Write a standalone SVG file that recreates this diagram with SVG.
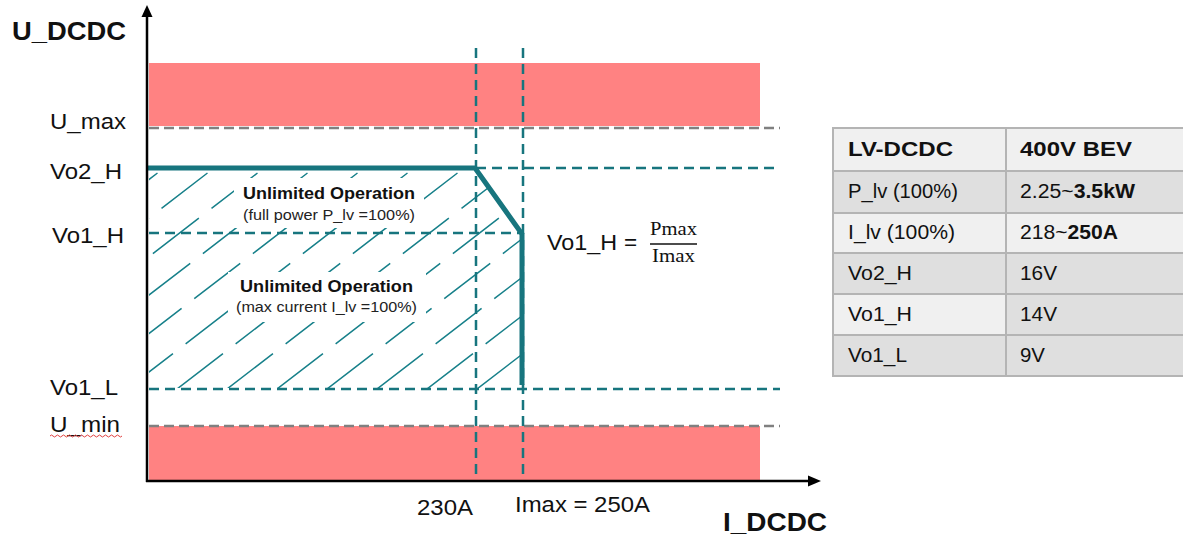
<svg xmlns="http://www.w3.org/2000/svg" width="1183" height="542" viewBox="0 0 1183 542">
<style>
text{font-family:"Liberation Sans",Arial,sans-serif;fill:#111}
.lbl{font-size:22.5px}
.ax{font-size:26px;font-weight:bold}
.uo{font-size:16.5px;font-weight:bold}
.sub{font-size:14.5px;fill:#222}
.tb{font-size:19.5px}
.b{font-weight:bold}
.red{fill:#ff8282}
.gdash{stroke:#808080;stroke-width:2.5;stroke-dasharray:10 5;fill:none}
.tdash{stroke:#17757e;stroke-width:2.5;stroke-dasharray:10 6;fill:none}
.hatch{stroke:#17808a;stroke-width:1.5;stroke-dasharray:58 16;fill:none}
.cellL{fill:#f0f0f0;stroke:#b4b4b4;stroke-width:2}
.cellD{fill:#dfdfdf;stroke:#b4b4b4;stroke-width:2}
.ser{font-family:"Liberation Serif","DejaVu Serif",serif;font-size:18px}
</style>
<defs>
<clipPath id="hclip"><polygon points="149,169 475,169 522,234 522,388 149,388"/></clipPath>
</defs>
<rect width="1183" height="542" fill="#fff"/>

<g id="bands">
<rect class="red" x="149" y="63" width="611" height="63"/>
<rect class="red" x="149" y="426" width="611" height="54"/>
</g>

<g id="hatching" clip-path="url(#hclip)">
<path class="hatch" d="M-273,389 L14,168 M-223,389 L64,168 M-173,389 L114,168 M-123,389 L164,168 M-73,389 L214,168 M-23,389 L264,168 M27,389 L314,168 M77,389 L364,168 M127,389 L414,168 M177,389 L464,168 M227,389 L514,168 M277,389 L564,168 M327,389 L614,168 M377,389 L664,168 M427,389 L714,168 M477,389 L764,168"/>
<rect x="234" y="178" width="190" height="50" fill="#fff"/>
<rect x="228" y="272" width="198" height="50" fill="#fff"/>
</g>

<g id="connectors">
<path class="gdash" d="M149,128 H780"/>
<path class="gdash" d="M149,426 H780"/>
<path class="tdash" d="M476,168 H780"/>
<path class="tdash" d="M149,233 H522"/>
<path class="tdash" d="M149,389 H780"/>
<path class="tdash" d="M476,48 V481"/>
<path class="tdash" d="M523,48 V481"/>
<path d="M148,168 H475 L522,234 V385" fill="none" stroke="#17757e" stroke-width="5" stroke-linejoin="miter"/>
</g>

<g id="axes">
<path d="M147,482 V14" stroke="#000" stroke-width="2.5" fill="none"/>
<path d="M147,5 L141.5,17 L152.5,17 Z" fill="#000"/>
<path d="M146,481 H810" stroke="#000" stroke-width="2.5" fill="none"/>
<path d="M821,481 L808,475.5 L808,486.5 Z" fill="#000"/>
</g>

<g id="labels">
<text class="ax" x="12" y="40" textLength="114" lengthAdjust="spacingAndGlyphs">U_DCDC</text>
<text class="ax" x="723" y="531" textLength="104" lengthAdjust="spacingAndGlyphs">I_DCDC</text>
<text class="lbl" x="50" y="129" textLength="76" lengthAdjust="spacingAndGlyphs">U_max</text>
<text class="lbl" x="50" y="179" textLength="72" lengthAdjust="spacingAndGlyphs">Vo2_H</text>
<text class="lbl" x="52" y="243" textLength="72" lengthAdjust="spacingAndGlyphs">Vo1_H</text>
<text class="lbl" x="50" y="395" textLength="68" lengthAdjust="spacingAndGlyphs">Vo1_L</text>
<text class="lbl" x="50" y="432" textLength="70" lengthAdjust="spacingAndGlyphs">U_min</text>
<path d="M50,436 q1.5,-2 3,0 t3,0 t3,0 t3,0 t3,0 t3,0 t3,0 t3,0 t3,0 t3,0 t3,0 t3,0 t3,0 t3,0 t3,0 t3,0 t3,0 t3,0 t3,0 t3,0 t3,0 t3,0 t3,0 t3,0" fill="none" stroke="#e04040" stroke-width="1"/>
<text class="lbl" x="417" y="515" textLength="56" lengthAdjust="spacingAndGlyphs">230A</text>
<text class="lbl" x="515" y="512" textLength="135" lengthAdjust="spacingAndGlyphs">Imax = 250A</text>
</g>

<g id="region-power">
<text class="uo" x="243" y="199" textLength="172" lengthAdjust="spacingAndGlyphs">Unlimited Operation</text>
<text class="sub" x="243" y="220" textLength="172" lengthAdjust="spacingAndGlyphs">(full power P_lv =100%)</text>
</g>
<g id="region-current">
<text class="uo" x="240" y="292" textLength="173" lengthAdjust="spacingAndGlyphs">Unlimited Operation</text>
<text class="sub" x="236" y="312" textLength="181" lengthAdjust="spacingAndGlyphs">(max current I_lv =100%)</text>
</g>

<g id="formula">
<text class="lbl" x="547" y="250" textLength="70" lengthAdjust="spacingAndGlyphs">Vo1_H</text>
<text class="lbl" x="624" y="250">=</text>
<text class="ser" x="650" y="235" textLength="47" lengthAdjust="spacingAndGlyphs">Pmax</text>
<path d="M650,244 H697" stroke="#111" stroke-width="1.5"/>
<text class="ser" x="652" y="262" textLength="43" lengthAdjust="spacingAndGlyphs">Imax</text>
</g>

<g id="table">
<rect class="cellL" x="833" y="128" width="173" height="43"/>
<rect class="cellL" x="1006" y="128" width="178" height="43"/>
<rect class="cellD" x="833" y="171" width="173" height="42"/>
<rect class="cellD" x="1006" y="171" width="178" height="42"/>
<rect class="cellL" x="833" y="213" width="173" height="40"/>
<rect class="cellL" x="1006" y="213" width="178" height="40"/>
<rect class="cellD" x="833" y="253" width="173" height="41"/>
<rect class="cellD" x="1006" y="253" width="178" height="41"/>
<rect class="cellL" x="833" y="294" width="173" height="41"/>
<rect class="cellD" x="1006" y="294" width="178" height="41"/>
<rect class="cellD" x="833" y="335" width="173" height="41"/>
<rect class="cellD" x="1006" y="335" width="178" height="41"/>
<text class="tb b" x="848" y="156" textLength="105" lengthAdjust="spacingAndGlyphs">LV-DCDC</text>
<text class="tb b" x="1020" y="156" textLength="112" lengthAdjust="spacingAndGlyphs">400V BEV</text>
<text class="tb" x="848" y="198" textLength="110" lengthAdjust="spacingAndGlyphs">P_lv (100%)</text>
<text class="tb" x="1020" y="198" textLength="115" lengthAdjust="spacingAndGlyphs">2.25~<tspan class="b">3.5kW</tspan></text>
<text class="tb" x="848" y="239" textLength="107" lengthAdjust="spacingAndGlyphs">I_lv (100%)</text>
<text class="tb" x="1020" y="239" textLength="98" lengthAdjust="spacingAndGlyphs">218~<tspan class="b">250A</tspan></text>
<text class="tb" x="848" y="280" textLength="64" lengthAdjust="spacingAndGlyphs">Vo2_H</text>
<text class="tb" x="1020" y="280" textLength="37" lengthAdjust="spacingAndGlyphs">16V</text>
<text class="tb" x="848" y="321" textLength="64" lengthAdjust="spacingAndGlyphs">Vo1_H</text>
<text class="tb" x="1020" y="321" textLength="37" lengthAdjust="spacingAndGlyphs">14V</text>
<text class="tb" x="848" y="362" textLength="59" lengthAdjust="spacingAndGlyphs">Vo1_L</text>
<text class="tb" x="1020" y="362" textLength="25" lengthAdjust="spacingAndGlyphs">9V</text>
</g>
</svg>
